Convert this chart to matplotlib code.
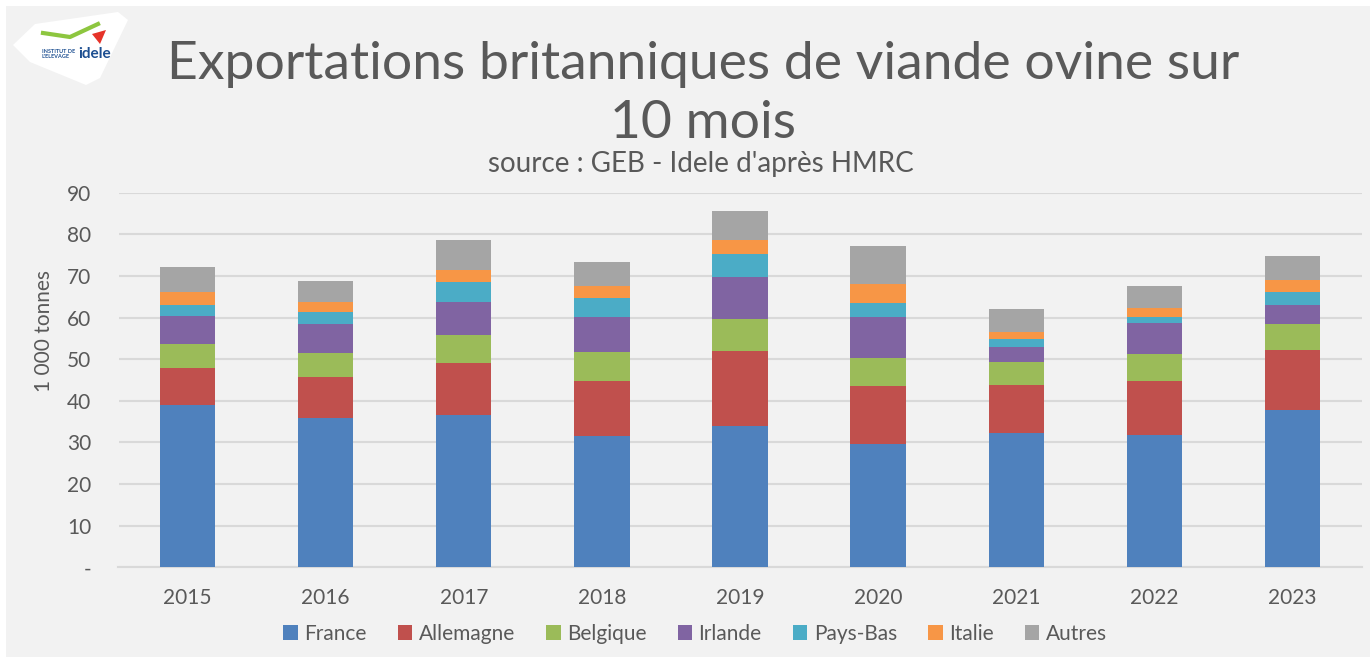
import numpy as np
import matplotlib.pyplot as plt
from matplotlib.patches import Rectangle, Polygon

plt.rcParams['font.family'] = ['Lato', 'DejaVu Sans']

years = ["2015", "2016", "2017", "2018", "2019", "2020", "2021", "2022", "2023"]
france = [39.0, 35.9, 36.6, 31.5, 34.0, 29.7, 32.2, 31.8, 37.7]
allemagne = [8.8, 9.8, 12.5, 13.3, 18.0, 13.9, 11.6, 12.9, 14.4]
belgique = [5.9, 5.9, 6.7, 6.9, 7.7, 6.8, 5.5, 6.5, 6.4]
irlande = [6.7, 6.9, 8.0, 8.5, 10.0, 9.8, 3.7, 7.5, 4.4]
pays_bas = [2.5, 2.9, 4.7, 4.6, 5.6, 3.3, 1.9, 1.4, 3.3]
italie = [3.3, 2.4, 3.0, 2.8, 3.3, 4.6, 1.7, 2.2, 2.9]
autres = [5.9, 5.0, 7.2, 5.8, 6.9, 9.2, 5.5, 5.4, 5.8]

series = [("France", france, "#4f81bd"),
          ("Allemagne", allemagne, "#c0504d"),
          ("Belgique", belgique, "#9bbb59"),
          ("Irlande", irlande, "#8064a2"),
          ("Pays-Bas", pays_bas, "#4bacc6"),
          ("Italie", italie, "#f79646"),
          ("Autres", autres, "#a5a5a5")]

W, H = 1370, 657
fig = plt.figure(figsize=(W / 100, H / 100), dpi=100)
fig.patch.set_facecolor("white")
# grey panel behind everything
fig.patches.append(Rectangle((6 / W, 0), 1, 1 - 6 / H, transform=fig.transFigure,
                             facecolor="#f2f2f2", edgecolor="none", zorder=-10))

ax = fig.add_axes([118.5 / W, 1 - 567.3 / H, 1243 / W, 374.6 / H])
ax.set_facecolor("#f2f2f2")

x = np.arange(len(years))
bottom = np.zeros(len(years))
for name, vals, col in series:
    ax.bar(x, vals, 0.4, bottom=bottom, color=col, label=name, zorder=3)
    bottom += np.array(vals)

ax.set_xlim(-0.5, len(years) - 0.5)
ax.set_ylim(0, 90)
ax.set_yticks(range(0, 91, 10))
ax.set_yticklabels(["-"] + [str(v) for v in range(10, 91, 10)])
ax.set_xticks(x)
ax.set_xticklabels(years)
ax.tick_params(axis="both", length=0, labelsize=15, labelcolor="#595959")
ax.tick_params(axis="y", pad=19.5)
ax.tick_params(axis="x", pad=15)
ax.grid(axis="y", color="#d9d9d9", linewidth=1.5, zorder=0)
for s in ["top", "right", "left"]:
    ax.spines[s].set_visible(False)
ax.spines["bottom"].set_color("#d9d9d9")
ax.spines["bottom"].set_linewidth(1.5)

ax.set_ylabel("1 000 tonnes", fontsize=15, color="#595959")
ax.yaxis.set_label_coords(-0.052, 0.631)

fig.text(703 / W, 1 - 41 / H, "Exportations britanniques de viande ovine sur\n10 mois",
         ha="center", va="top", fontsize=38.5, color="#595959", linespacing=1.31)
fig.text(701 / W, 1 - 164 / H, "source : GEB - Idele d'après HMRC",
         ha="center", va="center", fontsize=20, color="#595959")

handles, labels = ax.get_legend_handles_labels()
fig.legend(handles, labels, loc="center", bbox_to_anchor=(695 / W, 1 - 634 / H), ncol=7,
           frameon=False, fontsize=15, labelcolor="#595959", handlelength=0.7,
           handleheight=0.7, handletextpad=0.3, columnspacing=1.5,
           borderpad=0, borderaxespad=0)

# logo
logo = Polygon([(13 / W, 1 - 45 / H), (35 / W, 1 - 24 / H), (118 / W, 1 - 12 / H),
                (128 / W, 1 - 20 / H), (100 / W, 1 - 78 / H), (86 / W, 1 - 85 / H),
                (30 / W, 1 - 62 / H)], closed=True, transform=fig.transFigure,
               facecolor="white", edgecolor="none", zorder=1)
fig.patches.append(logo)
fig.lines.append(plt.Line2D([43 / W, 70 / W, 98 / W], [1 - 33 / H, 1 - 37 / H, 1 - 24 / H],
                            transform=fig.transFigure, color="#8dc63f", linewidth=3))
fig.patches.append(Polygon([(92 / W, 1 - 34 / H), (106 / W, 1 - 30 / H), (100 / W, 1 - 44 / H)],
                           closed=True, transform=fig.transFigure, facecolor="#e63329",
                           edgecolor="none", zorder=2))
fig.text(42 / W, 1 - 54 / H, "INSTITUT DE\nL'ELEVAGE", fontsize=4, color="#1d4f91",
         ha="left", va="center", fontweight="bold", linespacing=0.9)
fig.text(78 / W, 1 - 54 / H, "idele", fontsize=11, color="#1d4f91",
         ha="left", va="center", fontweight="bold")

fig.savefig("out.png", dpi=100, facecolor=fig.get_facecolor())
